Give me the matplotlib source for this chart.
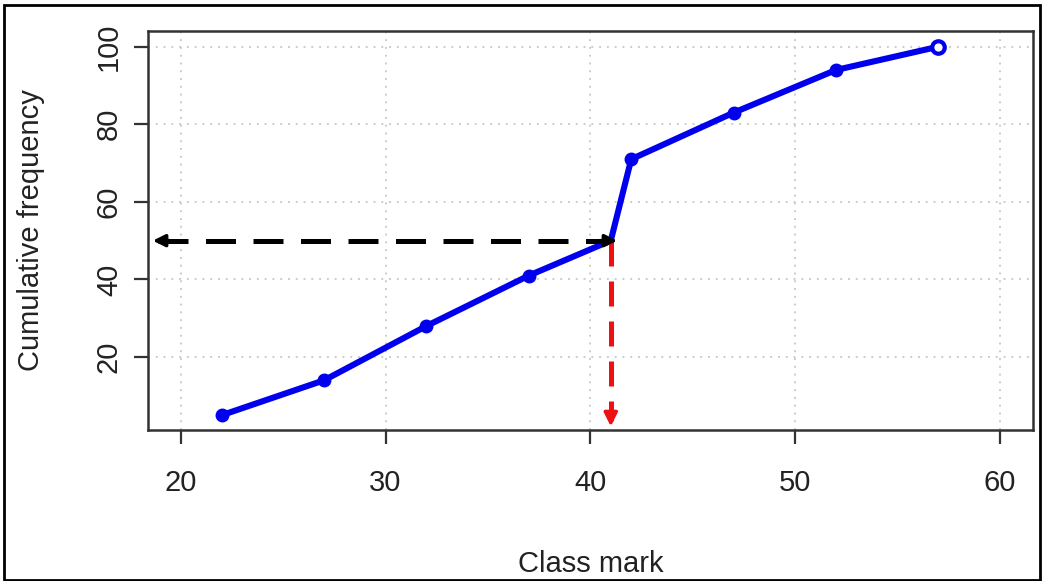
import matplotlib.pyplot as plt
from matplotlib.patches import Rectangle

plt.rcParams['font.family'] = ['Liberation Sans', 'DejaVu Sans']

# ogive data (class marks vs cumulative frequency), median point included
class_mark = [22, 27, 32, 37, 41, 42, 47, 52, 57]
cum_freq = [5, 14, 28, 41, 50, 71, 83, 94, 100]
median_x = 41
median_y = 50
x_ticks = [20, 30, 40, 50, 60]
y_ticks = [20, 40, 60, 80, 100]

fig = plt.figure(figsize=(10.42, 5.81), dpi=100)
ax = fig.add_axes([0.142, 0.260, 0.849, 0.687])

# gridlines
ax.grid(True, color='#cccccc', linestyle=(0, (1, 3)), linewidth=1.4)
ax.set_axisbelow(True)

# cumulative frequency line
ax.plot(class_mark, cum_freq, color='#0000ee', linewidth=4.4, solid_capstyle='round')
marked = [i for i in range(len(class_mark)) if class_mark[i] != median_x]
ax.plot([class_mark[i] for i in marked[:-1]], [cum_freq[i] for i in marked[:-1]],
        'o', color='#0000ee', markersize=9)
ax.plot(class_mark[-1], cum_freq[-1], 'o', markerfacecolor='white',
        markeredgecolor='#0000ee', markeredgewidth=3, markersize=9)

ax.set_xlim(18.4, 61.6)
ax.set_ylim(1.2, 104.1)

# black dashed double arrow to the y axis
ax.plot([18.9, 41.0], [median_y, median_y], color='black', linewidth=3.6,
        linestyle=(0, (6, 3.5)))
ax.annotate('', xy=(18.5, median_y), xytext=(19.6, median_y),
            arrowprops=dict(arrowstyle='-|>', color='black', lw=2.5, mutation_scale=18))
ax.annotate('', xy=(41.45, median_y), xytext=(40.3, median_y),
            arrowprops=dict(arrowstyle='-|>', color='black', lw=2.5, mutation_scale=18))

# red dashed arrow down to the x axis
ax.plot([median_x, median_x], [median_y, 3.5], color='#ee1111', linewidth=3.6,
        linestyle=(0, (5, 3)))
ax.annotate('', xy=(median_x, 1.4), xytext=(median_x, 5.5),
            arrowprops=dict(arrowstyle='-|>', color='#ee1111', lw=2.5, mutation_scale=20))

ax.set_xticks(x_ticks)
ax.set_yticks(y_ticks)
ax.set_yticklabels([str(v) for v in y_ticks], rotation=90, va='center')
ax.tick_params(axis='both', labelsize=21, length=10, width=1.6, color='#333333',
               labelcolor='#222222', pad=8)
ax.tick_params(axis='x', pad=18)
for sp in ax.spines.values():
    sp.set_linewidth(1.8)
    sp.set_color('#333333')

ax.set_xlabel('Class mark', fontsize=21, color='#222222', labelpad=38)
ax.set_ylabel('Cumulative frequency', fontsize=21, color='#222222', labelpad=36)

# outer frame of the picture
fig.patches.append(Rectangle((0.004, 0.002), 0.994, 0.99, transform=fig.transFigure,
                             fill=False, edgecolor='black', linewidth=2))

fig.savefig('out.png', dpi=100)
